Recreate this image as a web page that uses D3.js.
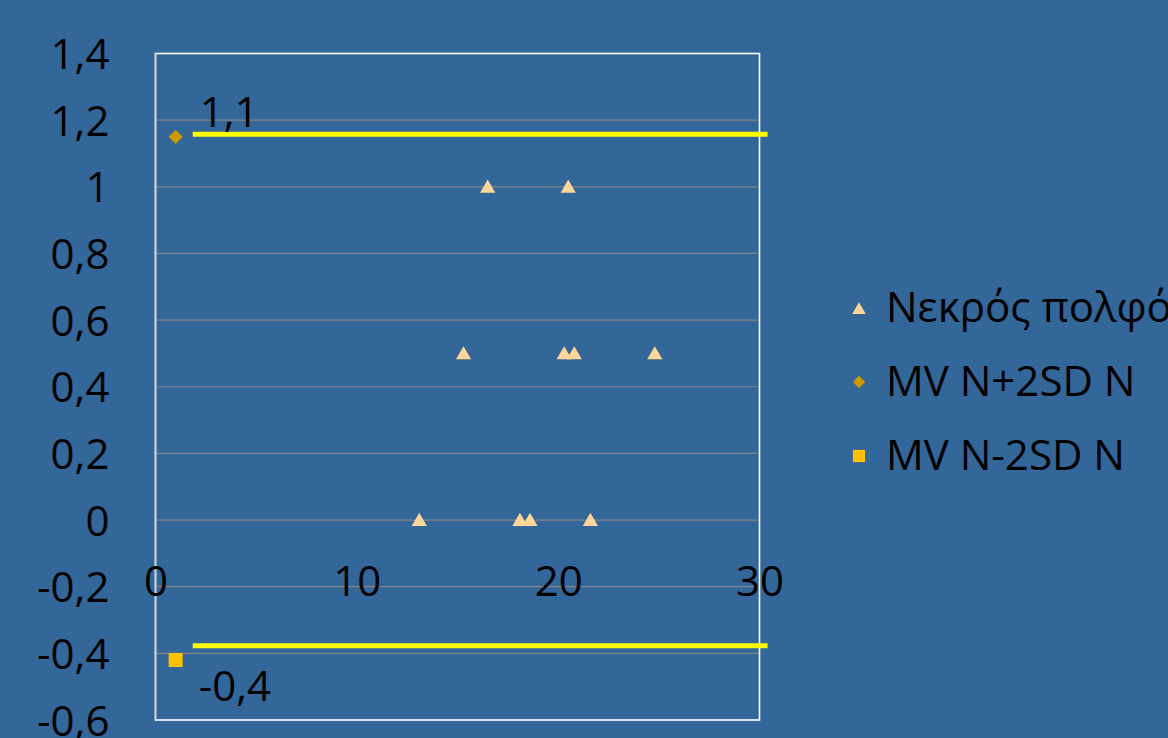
<!DOCTYPE html>
<html>
<head>
<meta charset="utf-8">
<script src="https://cdn.jsdelivr.net/npm/d3@7"></script>
<style>
  html, body { margin: 0; padding: 0; background: #336699; }
  svg { display: block; }
  text { font-family: "Open Sans", "Noto Sans", sans-serif; fill: #000; }
</style>
</head>
<body>
<svg id="chart" width="1168" height="738"></svg>
<script>
// Pulp necrosis measurements (x, y)
const necroX = [16.5, 20.5, 15.3, 20.3, 20.8, 24.8, 13.1, 18.1, 18.6, 21.6];
const necroY = [1, 1, 0.5, 0.5, 0.5, 0.5, 0, 0, 0, 0];

// Mean value of normals +/- 2 standard deviations
const upperPoint = { x: 1, y: 1.15, label: "1,1" };
const lowerPoint = { x: 1, y: -0.42, label: "-0,4" };

// Limit lines drawn across the plot
const limitLines = [
  { x0: 1.85, x1: 30.4, y: 1.158 },
  { x0: 1.85, x1: 30.4, y: -0.377 }
];

const yTicks = [-0.6, -0.4, -0.2, 0, 0.2, 0.4, 0.6, 0.8, 1, 1.2, 1.4];
const xTicks = [0, 10, 20, 30];
const gridValues = [-0.4, -0.2, 0, 0.2, 0.4, 0.6, 0.8, 1, 1.2];

const legendItems = [
  { name: "Νεκρός πολφός", shape: "triangle", color: "#ffd699" },
  { name: "MV N+2SD N", shape: "diamond", color: "#cc9900" },
  { name: "MV N-2SD N", shape: "square", color: "#ffc000" }
];

const locale = d3.formatLocale({ decimal: ",", thousands: ".", grouping: [3], currency: ["", ""], minus: "-" });
const fmt = locale.format(".1~f");

const svg = d3.select("#chart");
const plot = { left: 155.5, right: 759.5, top: 53.5, bottom: 720 };

const x = d3.scaleLinear().domain([0, 30]).range([plot.left, plot.right]);
const y = d3.scaleLinear().domain([-0.6, 1.4]).range([plot.bottom, plot.top]);

// Gridlines
svg.append("g").selectAll("line").data(gridValues).join("line")
  .attr("x1", plot.left).attr("x2", plot.right)
  .attr("y1", d => y(d)).attr("y2", d => y(d))
  .attr("stroke", "#858585").attr("stroke-width", 1.2);

// Plot border
svg.append("rect")
  .attr("x", plot.left).attr("y", plot.top)
  .attr("width", plot.right - plot.left).attr("height", plot.bottom - plot.top)
  .attr("fill", "none").attr("stroke", "#ffffff").attr("stroke-width", 1.6);
svg.append("line")
  .attr("x1", plot.left).attr("x2", plot.left).attr("y1", plot.top).attr("y2", plot.bottom)
  .attr("stroke", "#d0d0d0").attr("stroke-width", 1.6);

// Y axis
const yAxis = svg.append("g")
  .attr("transform", `translate(${plot.left},0)`)
  .call(d3.axisLeft(y).tickValues(yTicks).tickFormat(fmt).tickSize(0).tickPadding(46));
yAxis.select(".domain").remove();
yAxis.selectAll("text").attr("font-size", 42).attr("fill", "#000")
  .attr("font-family", "'Open Sans', sans-serif").attr("dy", "0.36em");

// X axis, crossing at y = 0, labels beneath
const xAxis = svg.append("g")
  .attr("transform", `translate(0,${y(0)})`)
  .call(d3.axisBottom(x).tickValues(xTicks).tickFormat(fmt).tickSize(0).tickPadding(61));
xAxis.select(".domain").remove();
xAxis.selectAll("text").attr("font-size", 42).attr("fill", "#000")
  .attr("font-family", "'Open Sans', sans-serif").attr("dy", "0.36em");

// Limit lines
svg.append("g").selectAll("line").data(limitLines).join("line")
  .attr("x1", d => x(d.x0)).attr("x2", d => x(d.x1))
  .attr("y1", d => y(d.y)).attr("y2", d => y(d.y))
  .attr("stroke", "#ffff00").attr("stroke-width", 5);

const sym = {
  triangle: d3.symbol().type(d3.symbolTriangle).size(100),
  diamond: d3.symbol().type(d3.symbolSquare).size(100),
  square: d3.symbol().type(d3.symbolSquare).size(196)
};

// Pulp necrosis points
const necro = necroX.map((v, i) => ({ x: v, y: necroY[i] }));
svg.append("g").selectAll("path").data(necro).join("path")
  .attr("d", sym.triangle())
  .attr("transform", d => `translate(${x(d.x)},${y(d.y) + 1.5})`)
  .attr("fill", legendItems[0].color);

// MV +/- 2SD markers
svg.append("path").attr("d", sym.diamond())
  .attr("transform", `translate(${x(upperPoint.x)},${y(upperPoint.y)}) rotate(45)`)
  .attr("fill", legendItems[1].color);
svg.append("path").attr("d", sym.square())
  .attr("transform", `translate(${x(lowerPoint.x)},${y(lowerPoint.y)})`)
  .attr("fill", legendItems[2].color);

// Value labels
svg.append("text").attr("x", x(upperPoint.x) + 24).attr("y", y(upperPoint.y) - 10)
  .attr("font-size", 42).text(upperPoint.label);
svg.append("text").attr("x", x(lowerPoint.x) + 23).attr("y", y(lowerPoint.y) + 41)
  .attr("font-size", 42).text(lowerPoint.label);

// Legend
const legend = svg.append("g").attr("transform", "translate(859,308)");
const rows = legend.selectAll("g").data(legendItems).join("g")
  .attr("transform", (d, i) => `translate(0,${i * 74})`);
rows.append("path")
  .attr("d", d => d.shape === "triangle" ? d3.symbol().type(d3.symbolTriangle).size(80)()
    : d.shape === "diamond" ? d3.symbol().type(d3.symbolSquare).size(76)()
    : d3.symbol().type(d3.symbolSquare).size(150)())
  .attr("transform", d => d.shape === "diamond" ? "rotate(45)" : d.shape === "triangle" ? "translate(0,2)" : null)
  .attr("fill", d => d.color);
rows.append("text").attr("x", 27).attr("y", 14)
  .attr("font-size", 42).text(d => d.name);
</script>
</body>
</html>
